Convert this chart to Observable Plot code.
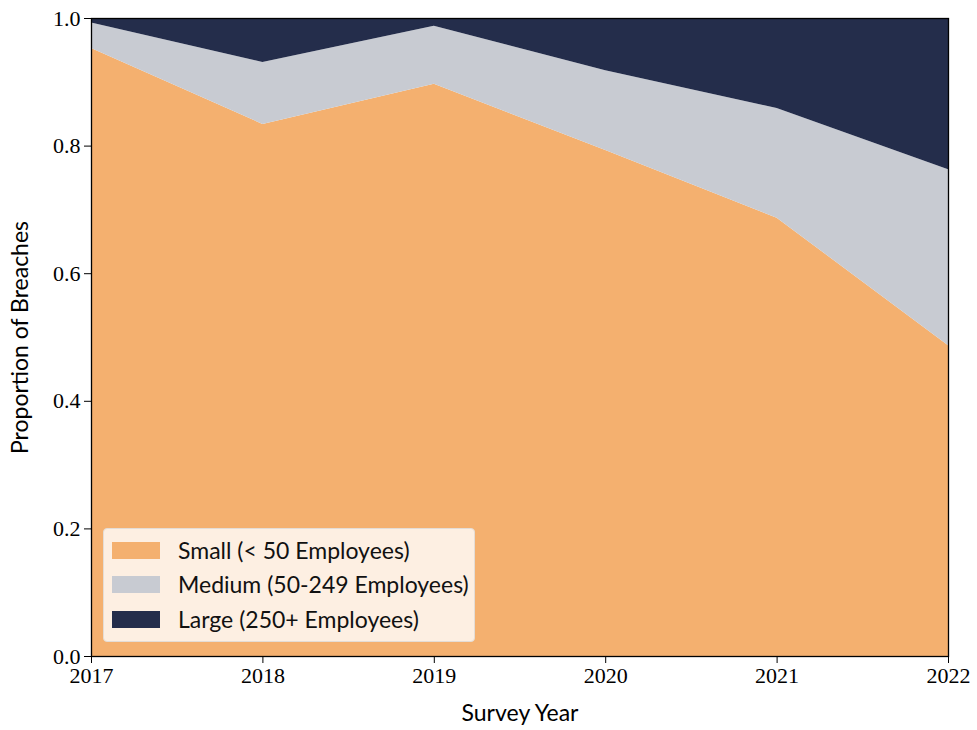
<!DOCTYPE html>
<html>
<head>
<meta charset="utf-8">
<script src="https://cdn.jsdelivr.net/npm/d3@7"></script>
<script src="https://cdn.jsdelivr.net/npm/@observablehq/plot@0.6"></script>
<style>
  body { margin: 0; background: #fff; }
  #wrap { position: relative; width: 977px; height: 730px; }
  #wrap svg { font-family: "Liberation Serif", serif; }
  #wrap g[aria-label="x-axis label"] text,
  #wrap g[aria-label="y-axis label"] text { font-family: Lato, "DejaVu Sans", sans-serif; font-size: 23px; }
  #legend {
    position: absolute; left: 103px; top: 528px; width: 372px; height: 114px;
    background: rgba(255,255,255,0.8); border: 1px solid #e4ddd6; border-radius: 4px;
    font-family: Lato, "DejaVu Sans", sans-serif; font-size: 23px; color: #111;
    box-sizing: border-box;
  }
  .row { position: absolute; left: 8px; height: 18px; display: flex; align-items: center; }
  .sw { width: 48px; height: 17px; margin-right: 18px; flex: none; }
</style>
</head>
<body>
<div id="wrap"></div>
<script>
const years = [2017, 2018, 2019, 2020, 2021, 2022];
const categories = ["Small (< 50 Employees)", "Medium (50-249 Employees)", "Large (250+ Employees)"];
const small  = [0.953, 0.834, 0.897, 0.793, 0.687, 0.487];
const medium = [0.040, 0.097, 0.091, 0.125, 0.172, 0.276];
const large  = [0.007, 0.069, 0.012, 0.082, 0.141, 0.237];
const colors = ["#f4b06f", "#c8cbd2", "#242d4b"];
const yTicks = [0, 0.2, 0.4, 0.6, 0.8, 1.0];

const series = [small, medium, large];
const data = [];
categories.forEach((c, i) => years.forEach((y, j) => data.push({year: y, cat: c, value: series[i][j]})));

const chart = Plot.plot({
  width: 977,
  height: 730,
  marginLeft: 91,
  marginRight: 29,
  marginTop: 18,
  marginBottom: 74,
  x: {domain: [2017, 2022]},
  y: {domain: [0, 1]},
  color: {domain: categories, range: colors},
  marks: [
    Plot.areaY(data, {x: "year", y: "value", fill: "cat", order: categories}),
    Plot.frame({stroke: "#000", strokeWidth: 1.3}),
    Plot.axisX({ticks: years, tickFormat: d => String(d), tickSize: 7, fontSize: 22, tickPadding: 4,
      label: "Survey Year", labelAnchor: "center", labelArrow: "none", labelOffset: 64}),
    Plot.axisY({ticks: yTicks, tickFormat: d3.format(".1f"), tickSize: 7, fontSize: 22, tickPadding: 4,
      label: "Proportion of Breaches", labelAnchor: "center", labelArrow: "none", labelOffset: 80})
  ]
});
document.getElementById("wrap").appendChild(chart);

const legend = document.createElement("div");
legend.id = "legend";
const rowTops = [12, 46, 81];
categories.forEach((c, i) => {
  const r = document.createElement("div");
  r.className = "row";
  r.style.top = rowTops[i] + "px";
  const s = document.createElement("div");
  s.className = "sw";
  s.style.background = colors[i];
  const t = document.createElement("span");
  t.textContent = c;
  r.appendChild(s); r.appendChild(t);
  legend.appendChild(r);
});
document.getElementById("wrap").appendChild(legend);
</script>
</body>
</html>
